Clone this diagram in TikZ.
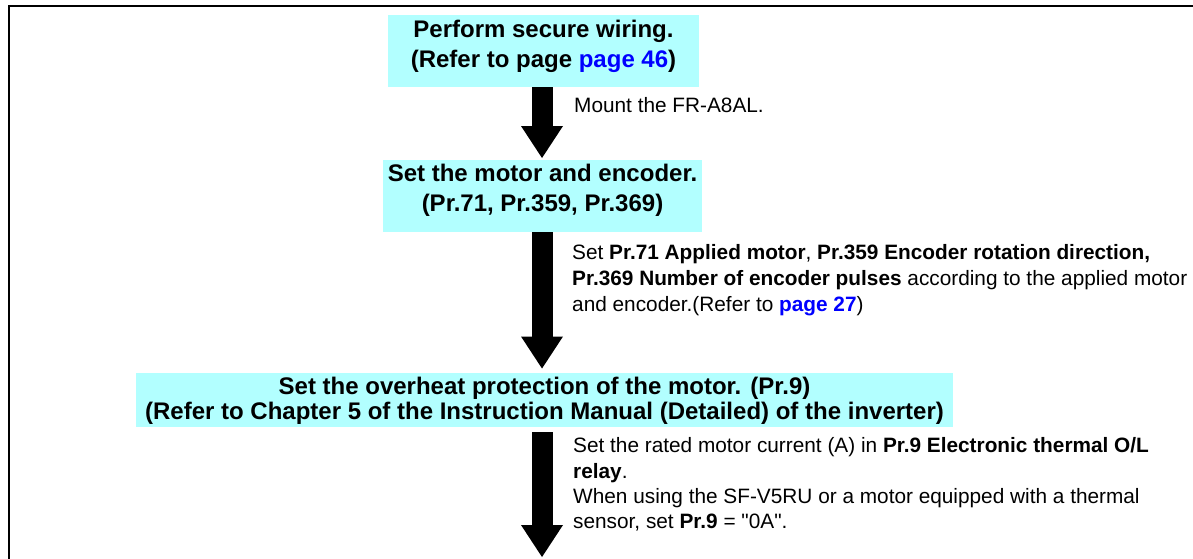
\documentclass[tikz,border=0pt]{standalone}
\usepackage{fontspec}
\setmainfont{Liberation Sans}
\usetikzlibrary{arrows.meta}
\definecolor{boxcyan}{RGB}{178,255,255}
\definecolor{linkblue}{RGB}{0,0,255}
\begin{document}
\begin{tikzpicture}[x=1pt,y=-1pt,
  box/.style={fill=boxcyan,draw=none,inner sep=0pt,outer sep=0pt},
  boxtext/.style={font=\fontsize{24}{30}\selectfont\bfseries,inner sep=0pt,anchor=base},
  note/.style={font=\fontsize{20.8}{26}\selectfont,inner sep=0pt,anchor=base west},
  flow/.style={line width=21pt,-{Triangle[width=42pt,length=32pt,line width=0pt]}},
  frame/.style={line width=2.2pt}]
\useasboundingbox (0,0) rectangle (1193,558);
% frame
\coordinate (fbl) at (9,560);
\coordinate (ftr) at (1195,6);
\draw[frame] (fbl) |- (ftr);
% boxes
\node[box,minimum width=311pt,minimum height=72pt] (b1) at (543.5,51) {};
\node[box,minimum width=319pt,minimum height=72pt] (b2) at (542.5,196) {};
\node[box,minimum width=817pt,minimum height=54pt] (b3) at (544.5,400) {};
% box texts
\node[boxtext] (t1a) at (543.5,37) {Perform secure wiring.};
\node[boxtext] (t1b) at (543.5,67) {(Refer to page \textcolor{linkblue}{page 46})};
\node[boxtext] (t2a) at (542.5,181) {Set the motor and encoder.};
\node[boxtext] (t2b) at (542.5,211) {(Pr.71, Pr.359, Pr.369)};
\node[boxtext] (t3a) at (544.5,394) {Set the overheat protection of the motor. (Pr.9)};
\node[boxtext] (t3b) at (544.5,419) {(Refer to Chapter 5 of the Instruction Manual (Detailed) of the inverter)};
% arrows
\coordinate (ax) at (542,0);
\coordinate (end) at (542,557);
\draw[flow,shorten >=2pt] (b1.south -| ax) -- (b2.north -| ax);
\draw[flow,shorten >=4.5pt] (b2.south -| ax) -- (b3.north -| ax);
\draw[flow,shorten <=5pt] (b3.south -| ax) -- (end);
% notes
\node[note] (n1) at (574,112) {Mount the FR-A8AL.};
\node[note] (n2a) at (572,259) {Set \textbf{Pr.71 Applied motor}, \textbf{Pr.359 Encoder rotation direction,}};
\node[note] (n2b) at (572,285) {\textbf{Pr.369 Number of encoder pulses} according to the applied motor};
\node[note] (n2c) at (572,311) {and encoder.(Refer to \textcolor{linkblue}{\textbf{page 27}})};
\node[note] (n3a) at (573,452) {Set the rated motor current (A) in \textbf{Pr.9 Electronic thermal O/L}};
\node[note] (n3b) at (573,478) {\textbf{relay}.};
\node[note] (n3c) at (573,503) {When using the SF-V5RU or a motor equipped with a thermal};
\node[note] (n3d) at (573,528) {sensor, set \textbf{Pr.9} = \textquotedbl 0A\textquotedbl .};
\end{tikzpicture}
\end{document}
